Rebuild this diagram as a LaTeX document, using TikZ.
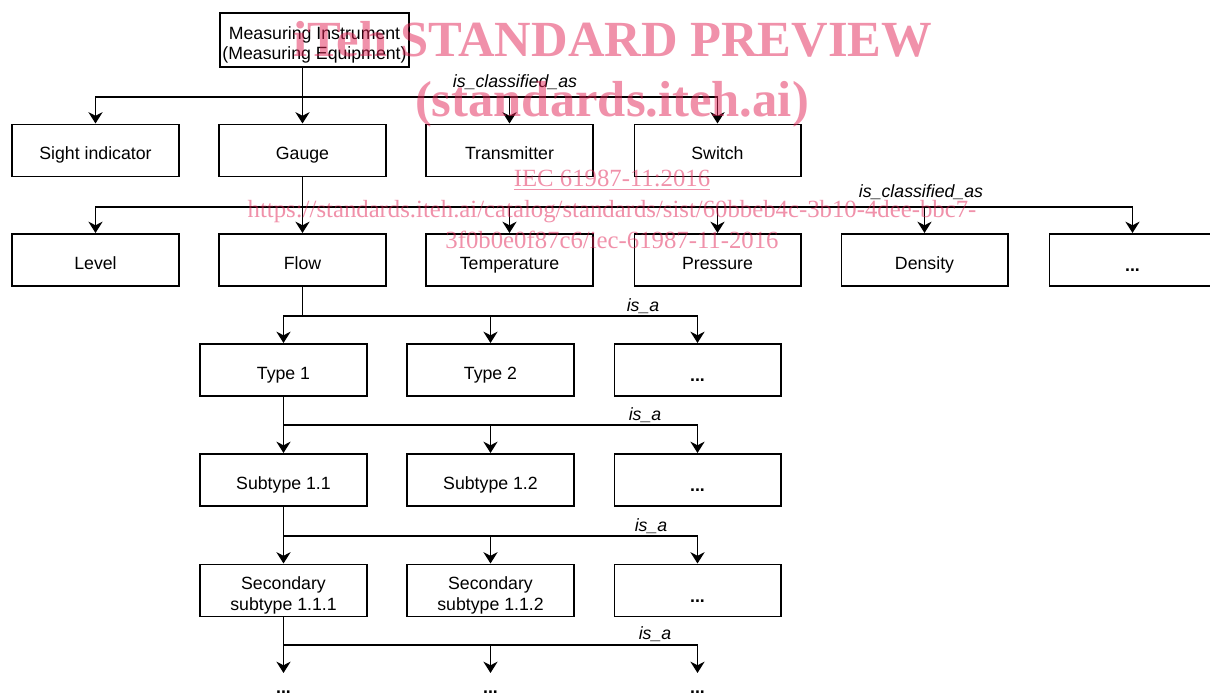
\documentclass[tikz,border=0pt]{standalone}
\usepackage{fontspec}
\setmainfont{Liberation Sans}
\newfontfamily\wmfont{Liberation Serif}
\usetikzlibrary{arrows.meta}

\definecolor{wmpink}{RGB}{225,35,85}

\tikzset{
	basebox/.style={draw, line width=1.4pt, minimum width=4.15cm, minimum height=1.3cm, align=center, inner sep=2pt},
	box/.style={basebox, text height=13pt, text depth=0pt},
	twobox/.style={basebox, text height=28pt, text depth=0pt},
	morebox/.style={basebox, font=\bfseries, text height=17pt, text depth=0pt},
	enddots/.style={font=\bfseries, inner sep=0pt, text height=14.5pt, text depth=0pt, anchor=north},
	rel/.style={font=\itshape},
	link/.style={line width=1.4pt, line cap=rect},
	arr/.style={line width=1.4pt, -{Stealth[length=8pt,width=10pt,inset=2.5pt]}},
	wm/.style={text=wmpink, text opacity=0.5, anchor=base}
}

\begin{document}
\fontsize{12.6}{14.5}\selectfont
\begin{tikzpicture}[x=0.025cm, y=-0.025cm]

	\useasboundingbox (0,0) rectangle (1210,695);

	%top of the tree
	\node[twobox, minimum width=4.7cm, minimum height=1.33cm] (instr) at (314.5,40) {Measuring Instrument\\(Measuring Equipment)};

	%first level
	\node[box] (sight) at (95.5,150.5) {Sight indicator};
	\node[box] (gauge) at (302.5,150.5) {Gauge};
	\node[box] (trans) at (509.5,150.5) {Transmitter};
	\node[box] (switch) at (717.5,150.5) {Switch};

	%second level
	\node[box] (level) at (95.5,260) {Level};
	\node[box] (flow) at (302.5,260) {Flow};
	\node[box] (temp) at (509.5,260) {Temperature};
	\node[box] (press) at (717.5,260) {Pressure};
	\node[box] (dens) at (924.5,260) {Density};
	\node[morebox] (more2) at (1132.5,260) {...};

	%types
	\node[box] (type1) at (283.5,370) {Type 1};
	\node[box] (type2) at (490.5,370) {Type 2};
	\node[morebox] (more3) at (697.5,370) {...};

	%subtypes
	\node[box] (sub11) at (283.5,480) {Subtype 1.1};
	\node[box] (sub12) at (490.5,480) {Subtype 1.2};
	\node[morebox] (more4) at (697.5,480) {...};

	%secondary subtypes
	\node[twobox] (sec111) at (283.5,590.5) {Secondary\\subtype 1.1.1};
	\node[twobox] (sec112) at (490.5,590.5) {Secondary\\subtype 1.1.2};
	\node[morebox] (more5) at (697.5,590.5) {...};

	%open ends
	\node[enddots] (end1) at (283.5,673) {...};
	\node[enddots] (end2) at (490.5,673) {...};
	\node[enddots] (end3) at (697.5,673) {...};

	%the bus lines
	\coordinate (bus1) at (0,97);
	\coordinate (bus2) at (0,207);
	\coordinate (bus3) at (0,316);
	\coordinate (bus4) at (0,425);
	\coordinate (bus5) at (0,536);
	\coordinate (bus6) at (0,645);

	\draw[link] (instr.south -| gauge) -- (bus1 -| gauge);
	\draw[link] (bus1 -| sight) -- (bus1 -| switch);
	\foreach \n in {sight,gauge,trans,switch}
		\draw[arr] (bus1 -| \n) -- (\n.north);

	\draw[link] (gauge.south) -- (bus2 -| gauge);
	\draw[link] (bus2 -| level) -- (bus2 -| more2);
	\foreach \n in {level,flow,temp,press,dens,more2}
		\draw[arr] (bus2 -| \n) -- (\n.north);

	\draw[link] (flow.south) -- (bus3 -| flow);
	\draw[link] (bus3 -| type1) -- (bus3 -| more3);
	\foreach \n in {type1,type2,more3}
		\draw[arr] (bus3 -| \n) -- (\n.north);

	\draw[link] (type1.south) -- (bus4 -| type1);
	\draw[link] (bus4 -| sub11) -- (bus4 -| more4);
	\foreach \n in {sub11,sub12,more4}
		\draw[arr] (bus4 -| \n) -- (\n.north);

	\draw[link] (sub11.south) -- (bus5 -| sub11);
	\draw[link] (bus5 -| sec111) -- (bus5 -| more5);
	\foreach \n in {sec111,sec112,more5}
		\draw[arr] (bus5 -| \n) -- (\n.north);

	\draw[link] (sec111.south) -- (bus6 -| sec111);
	\draw[link] (bus6 -| end1) -- (bus6 -| end3);
	\foreach \n in {end1,end2,end3}
		\draw[arr] (bus6 -| \n) -- (\n.north);

	%relation labels
	\node[rel] (cls1) at (515,82) {is\_classified\_as};
	\node[rel] (cls2) at (921,192) {is\_classified\_as};
	\node[rel] (isa3) at (643,306) {is\_a};
	\node[rel] (isa4) at (645,415) {is\_a};
	\node[rel] (isa5) at (651,526) {is\_a};
	\node[rel] (isa6) at (655,634) {is\_a};

	%preview stamp
	\node[wm, font=\wmfont\bfseries\fontsize{36}{40}\selectfont] (wm1) at (613,57) {iTeh STANDARD PREVIEW};
	\node[wm, font=\wmfont\bfseries\fontsize{36}{40}\selectfont] (wm2) at (612,117) {(standards.iteh.ai)};
	\node[wm, font=\wmfont\fontsize{17.6}{20}\selectfont] (wm3) at (612,187) {\underline{IEC 61987-11:2016}};
	\node[wm, font=\wmfont\fontsize{17.6}{20}\selectfont] (wm4) at (612,218) {https://standards.iteh.ai/catalog/standards/sist/60bbeb4c-3b10-4dee-bbc7-};
	\node[wm, font=\wmfont\fontsize{17.6}{20}\selectfont] (wm5) at (612,249) {3f0b0e0f87c6/iec-61987-11-2016};

\end{tikzpicture}
\end{document}
